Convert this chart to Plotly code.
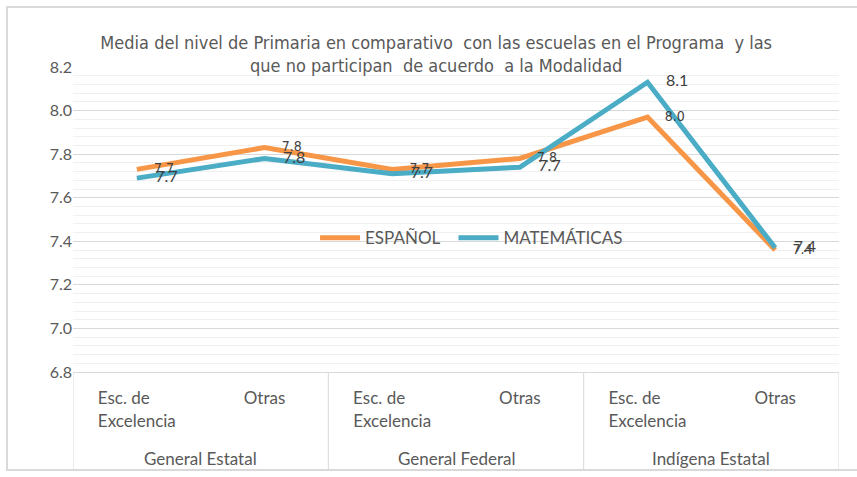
import plotly.graph_objects as go

groups = ["General Estatal", "General Federal", "Indígena Estatal"]
subcats = ["Esc. de\u00a0\u00a0\u00a0\u00a0\u00a0\u00a0<br>Excelencia", "Otras",
           "Esc. de\u00a0\u00a0\u00a0\u00a0\u00a0\u00a0<br>Excelencia", "Otras",
           "Esc. de\u00a0\u00a0\u00a0\u00a0\u00a0\u00a0<br>Excelencia", "Otras"]
espanol = [7.73, 7.83, 7.73, 7.78, 7.97, 7.36]
matematicas = [7.69, 7.78, 7.71, 7.74, 8.13, 7.37]
y_ticks = [6.8, 7.0, 7.2, 7.4, 7.6, 7.8, 8.0, 8.2]

ORANGE = "#F79646"
BLUE = "#4BACC6"
GRAY = "#595959"
LINE = "#D9D9D9"
NARROW = "DejaVu Sans Condensed, Liberation Sans Narrow, Roboto Condensed, DejaVu Sans"

xs = list(range(len(subcats)))

fig = go.Figure()
# series lines
fig.add_trace(go.Scatter(x=xs, y=espanol, name="ESPAÑOL\u00a0\u00a0", mode="lines",
                         line=dict(color=ORANGE, width=5)))
fig.add_trace(go.Scatter(x=xs, y=matematicas, name="MATEMÁTICAS", mode="lines",
                         line=dict(color=BLUE, width=5)))
# data labels (invisible markers give the label offset)
fig.add_trace(go.Scatter(
    x=xs, y=espanol, mode="markers+text", showlegend=False,
    marker=dict(size=26, opacity=0, color=ORANGE),
    text=[f"{v:.1f}" for v in espanol], textposition="middle right",
    textfont=dict(family=NARROW, size=14, color="#404040"), cliponaxis=False,
))
fig.add_trace(go.Scatter(
    x=xs, y=matematicas, mode="markers+text", showlegend=False,
    marker=dict(size=28, opacity=0, color=BLUE),
    text=[f"{v:.1f}" for v in matematicas], textposition="middle right",
    textfont=dict(family="Lato", size=16, color="#404040"), cliponaxis=False,
))

fig.update_layout(
    width=857, height=477,
    margin=dict(l=73, r=18, t=67, b=105),
    paper_bgcolor="white", plot_bgcolor="white",
    font=dict(family="Lato", size=17, color=GRAY),
    title=dict(
        text="Media del nivel de Primaria en comparativo  con las escuelas en el Programa  y las<br>que no participan  de acuerdo  a la Modalidad",
        x=0.509, xanchor="center", y=0.898, yanchor="middle",
        font=dict(family=NARROW, size=18, color=GRAY),
    ),
    showlegend=True,
    legend=dict(orientation="h", x=0.316, y=0.439, xanchor="left", yanchor="middle",
                bgcolor="rgba(0,0,0,0)", font=dict(family="Lato", size=17, color=GRAY),
                itemwidth=40),
    xaxis=dict(
        range=[-0.5, 5.5], tickvals=xs, ticktext=subcats,
        showline=True, linecolor=LINE, linewidth=1,
        showgrid=False, zeroline=False, ticks="", ticklabelstandoff=11,
        tickfont=dict(family="Lato", size=17, color=GRAY),
    ),
    yaxis=dict(
        range=[6.8, 8.2], tickvals=y_ticks, tickformat=".1f",
        showgrid=True, gridcolor=LINE, gridwidth=1, zeroline=False,
        showline=False, ticks="", tickfont=dict(family="Lato", size=16, color=GRAY),
        minor=dict(dtick=0.04, showgrid=True, gridcolor="#F0F0F0", gridwidth=1),
    ),
)

# category box dividers (group boundaries)
for xb in [-0.5, 1.5, 3.5, 5.5]:
    fig.add_shape(type="line", xref="x", yref="paper", x0=xb, x1=xb, y0=0, y1=-0.321,
                  line=dict(color=LINE, width=1))

# group labels
for i, g in enumerate(groups):
    fig.add_annotation(x=2 * i + 0.5, y=-0.282, xref="x", yref="paper", text=g,
                       showarrow=False, xanchor="center", yanchor="middle",
                       font=dict(family="Lato", size=17, color=GRAY))

# outer chart frame
fig.add_shape(type="rect", xref="paper", yref="paper",
              x0=-0.0862, x1=1.03, y0=-0.321, y1=1.197,
              line=dict(color=LINE, width=2), layer="below")

fig.write_html("out.html", config={"displayModeBar": False},
               post_script="document.body.style.margin='0';")
